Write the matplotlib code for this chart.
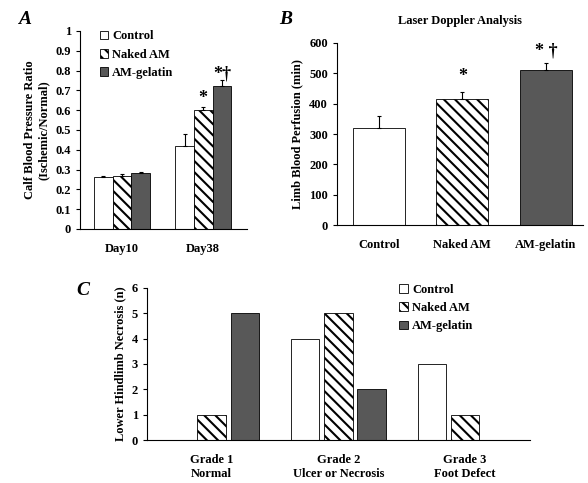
import numpy as np
import matplotlib
matplotlib.use('Agg')
import matplotlib.pyplot as plt

plt.rcParams['font.family'] = ['Liberation Serif', 'DejaVu Serif']
plt.rcParams['font.weight'] = 'bold'
plt.rcParams['axes.labelweight'] = 'bold'
plt.rcParams['axes.titleweight'] = 'bold'
plt.rcParams['hatch.linewidth'] = 1.5

groups = ['Control', 'Naked AM', 'AM-gelatin']

# panel A
days = ['Day10', 'Day38']
ratio = {'Control': [0.26, 0.42], 'Naked AM': [0.265, 0.60], 'AM-gelatin': [0.28, 0.72]}
ratio_err = {'Control': [0.005, 0.06], 'Naked AM': [0.01, 0.015], 'AM-gelatin': [0.01, 0.03]}

# panel B
perfusion = [320, 415, 512]
perfusion_err = [40, 25, 22]

# panel C
grades = ['Grade 1\nNormal', 'Grade 2\nUlcer or Necrosis', 'Grade 3\nFoot Defect']
necrosis = {'Control': [0, 4, 3], 'Naked AM': [1, 5, 1], 'AM-gelatin': [5, 2, 0]}

styles = {
    'Control': dict(facecolor='white', edgecolor='black', hatch=None),
    'Naked AM': dict(facecolor='white', edgecolor='black', hatch='\\\\\\'),
    'AM-gelatin': dict(facecolor='#585858', edgecolor='black', hatch=None),
}
ekw = dict(elinewidth=0.8, capthick=0.8)

fig = plt.figure(figsize=(5.88, 4.83), dpi=100)

def clean(ax):
    ax.spines['top'].set_visible(False)
    ax.spines['right'].set_visible(False)
    ax.tick_params(length=3, width=0.8, labelsize=9)
    ax.tick_params(axis='x', length=0, pad=10)

# ---- A
axA = fig.add_axes([0.136, 0.526, 0.284, 0.41])
x = np.arange(len(days))
w = 0.23
for i, g in enumerate(groups):
    err = [np.zeros(len(days)), ratio_err[g]]
    axA.bar(x + (i - 1) * w, ratio[g], w, yerr=err, capsize=1.5, error_kw=ekw,
            linewidth=0.6, label=g, **styles[g])
axA.set_ylim(0, 1)
axA.set_xlim(-0.52, 1.54)
axA.set_yticks(np.arange(0, 1.01, 0.1))
axA.set_yticklabels(['0', '0.1', '0.2', '0.3', '0.4', '0.5', '0.6', '0.7', '0.8', '0.9', '1'])
axA.set_xticks(x)
axA.set_xticklabels(days)
axA.set_ylabel('Calf Blood Pressure Ratio\n(Ischemic/Normal)', fontsize=9, labelpad=4)
clean(axA)
axA.text(1, 0.635, '*', ha='center', fontsize=13)
axA.text(1 + w, 0.76, '*†', ha='center', fontsize=13)
axA.legend(loc='upper left', bbox_to_anchor=(0.05, 1.06), frameon=False, fontsize=9,
           handlelength=0.7, handleheight=0.7, handletextpad=0.3, labelspacing=0.5)
fig.text(0.03, 0.95, 'A', fontsize=14, style='italic', fontweight='bold')

# ---- B
axB = fig.add_axes([0.573, 0.534, 0.418, 0.377])
xb = np.arange(len(groups))
for i, g in enumerate(groups):
    axB.bar(xb[i], perfusion[i], 0.62, yerr=[[0], [perfusion_err[i]]], capsize=1.5,
            error_kw=ekw, linewidth=0.6, **styles[g])
axB.set_ylim(0, 600)
axB.set_xlim(-0.5, 2.44)
axB.set_yticks(range(0, 601, 100))
axB.set_xticks(xb)
axB.set_xticklabels(groups)
axB.set_ylabel('Limb Blood Perfusion (min)', fontsize=9, labelpad=4)
axB.set_title('Laser Doppler Analysis', fontsize=9, pad=14)
clean(axB)
axB.text(1, 475, '*', ha='center', fontsize=13)
axB.text(2, 560, '* †', ha='center', fontsize=13)
fig.text(0.475, 0.95, 'B', fontsize=14, style='italic', fontweight='bold')

# ---- C
axC = fig.add_axes([0.25, 0.089, 0.651, 0.315])
xc = np.arange(len(grades))
wc = 0.225
for i, g in enumerate(groups):
    axC.bar(xc + (i - 1) * 0.262, necrosis[g], wc, linewidth=0.6, label=g, **styles[g])
axC.set_ylim(0, 6)
axC.set_xlim(-0.51, 2.51)
axC.set_yticks(range(0, 7))
axC.set_xticks(xc)
axC.set_xticklabels(grades)
axC.set_ylabel('Lower Hindlimb Necrosis (n)', fontsize=9, labelpad=4)
clean(axC)
axC.legend(loc='upper left', bbox_to_anchor=(0.63, 1.1), frameon=False, fontsize=9,
           handlelength=0.7, handleheight=0.7, handletextpad=0.3, labelspacing=0.5)
fig.text(0.13, 0.39, 'C', fontsize=14, style='italic', fontweight='bold')

fig.savefig('out.png', dpi=100)
